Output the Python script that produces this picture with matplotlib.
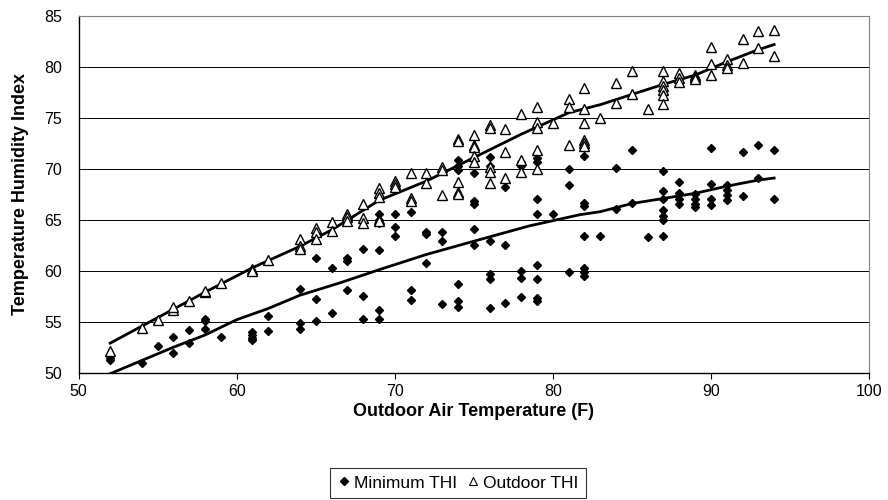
import matplotlib
matplotlib.use("Agg")
from matplotlib import pyplot as plt
from matplotlib.lines import Line2D

plt.rcParams['font.family'] = ['Liberation Sans', 'DejaVu Sans']

# Minimum THI readings, grouped by outdoor temperature (F)
min_temp = [52, 52, 54, 55, 56, 56, 57, 57, 58, 58, 58, 59,
            61, 61, 61, 61, 62, 62, 64, 64, 64, 65, 65, 65, 66, 66,
            67, 67, 67, 68, 68, 68, 69, 69, 69, 69, 69, 69,
            70, 70, 70, 71, 71, 71, 72, 72, 72, 73, 73, 73,
            74, 74, 74, 74, 74, 74, 75, 75, 75, 75, 75,
            76, 76, 76, 76, 76, 76, 77, 77, 77, 78, 78, 78, 78, 78,
            79, 79, 79, 79, 79, 79, 79, 79, 80, 81, 81, 81,
            82, 82, 82, 82, 82, 82, 82, 83, 84, 84, 85, 85, 86,
            87, 87, 87, 87, 87, 87, 87, 88, 88, 88, 88, 89, 89, 89, 89,
            90, 90, 90, 90, 91, 91, 91, 91, 92, 92, 93, 93, 94, 94]
min_thi = [51.4, 51.2, 51.0, 52.6, 53.5, 51.9, 54.2, 52.9, 55.3, 55.1, 54.3, 53.5,
           54.0, 53.7, 53.4, 53.2, 55.6, 54.1, 58.2, 54.9, 54.3, 61.3, 57.2, 55.1, 60.3, 55.9,
           61.3, 61.0, 58.1, 62.1, 57.5, 55.3, 65.6, 65.0, 64.7, 62.0, 56.2, 55.3,
           65.6, 64.3, 63.4, 65.8, 58.1, 57.1, 63.8, 63.6, 60.8, 63.8, 62.9, 56.7,
           70.9, 70.3, 69.9, 58.7, 57.0, 56.4, 69.6, 66.8, 66.6, 64.1, 62.5,
           71.2, 70.3, 62.9, 59.7, 59.2, 56.3, 68.2, 62.5, 56.8, 70.7, 70.3, 60.0, 59.3, 57.4,
           71.1, 70.7, 67.0, 65.6, 60.6, 59.2, 57.3, 57.0, 65.6, 70.0, 68.4, 59.9,
           71.3, 66.7, 66.4, 63.4, 60.3, 59.9, 59.5, 63.4, 70.1, 66.1, 71.9, 66.7, 63.3,
           69.8, 67.8, 67.0, 66.0, 65.4, 65.0, 63.4, 68.7, 67.6, 67.0, 66.6, 67.5, 67.0, 66.6, 66.3,
           72.0, 68.5, 67.0, 66.5, 68.4, 67.9, 67.4, 66.9, 71.7, 67.3, 72.3, 69.1, 71.9, 67.0]

# Outdoor THI readings
out_temp = [52, 54, 55, 56, 56, 57, 58, 58, 59, 61, 61, 62,
            64, 64, 64, 65, 65, 65, 66, 66, 67, 67, 67, 68, 68, 68,
            69, 69, 69, 69, 69, 70, 70, 70, 71, 71, 71, 72, 72, 73, 73, 73,
            74, 74, 74, 74, 74, 75, 75, 75, 75, 75, 76, 76, 76, 76, 76,
            77, 77, 77, 78, 78, 78, 79, 79, 79, 79, 79, 80, 81, 81, 81,
            82, 82, 82, 82, 82, 82, 83, 84, 84, 85, 85, 86,
            87, 87, 87, 87, 87, 87, 88, 88, 88, 89, 89, 89,
            90, 90, 90, 91, 91, 91, 92, 92, 93, 93, 94, 94]
out_thi = [52.1, 54.4, 55.2, 56.2, 56.4, 57.0, 57.9, 58.0, 58.8, 60.2, 60.0, 61.1,
           63.1, 62.4, 62.1, 64.2, 63.8, 63.1, 64.8, 63.9, 65.6, 65.3, 64.9, 66.6, 65.2, 64.7,
           68.1, 67.6, 67.2, 65.1, 64.9, 68.8, 68.5, 68.2, 69.6, 67.1, 66.8, 69.6, 68.6, 70.2, 69.9, 67.4,
           72.9, 72.7, 68.7, 67.7, 67.5, 73.3, 72.3, 72.1, 71.3, 70.7, 74.3, 74.0, 70.2, 69.7, 68.6,
           73.9, 71.7, 69.1, 75.4, 70.9, 69.7, 76.1, 74.6, 74.0, 71.9, 70.0, 74.5, 76.9, 76.1, 72.3,
           77.9, 75.9, 74.5, 72.8, 72.5, 72.2, 75.0, 78.4, 76.5, 79.6, 77.3, 75.9,
           79.6, 78.6, 78.1, 77.7, 77.2, 76.4, 79.4, 78.9, 78.5, 79.2, 79.0, 78.8,
           82.0, 80.3, 79.2, 80.8, 80.2, 79.9, 82.7, 80.4, 83.5, 81.9, 83.6, 81.1]

# trend lines
min_line_x = [52, 54, 56, 58, 60, 62, 64, 66.5, 69, 72, 75, 78.5, 81.7, 83, 85, 87, 89, 91, 93, 94]
min_line_y = [49.9, 51.2, 52.5, 53.7, 55.2, 56.3, 57.6, 58.8, 60.1, 61.6, 62.9, 64.4, 65.5, 65.8,
              66.6, 67.1, 67.6, 68.3, 68.9, 69.1]
out_line_x = [52, 55, 58, 61, 64, 66, 69, 72, 75, 78, 81, 83, 85, 87, 89, 91, 93, 94]
out_line_y = [52.9, 55.4, 57.9, 60.3, 62.4, 64.0, 66.9, 68.8, 71.1, 73.4, 75.5, 76.3, 77.3, 78.3,
              79.2, 80.5, 81.7, 82.2]

fig = plt.figure(figsize=(8.88, 5.0), dpi=100)
ax = fig.add_axes([0.0885, 0.2546, 0.8901, 0.7134])

for y in range(55, 86, 5):
    ax.axhline(y, color='black', lw=0.7, zorder=1)

ax.plot(min_line_x, min_line_y, color='black', lw=2, zorder=2)
ax.plot(out_line_x, out_line_y, color='black', lw=2, zorder=2)
ax.plot(min_temp, min_thi, 'D', color='black', ms=4.3, ls='none', zorder=3)
ax.plot(out_temp, out_thi, '^', mfc='white', mec='black', mew=1, ms=6.5, ls='none', zorder=4)

ax.set_xlim(50, 100)
ax.set_ylim(50, 85)
ax.set_xticks(range(50, 101, 10))
ax.set_yticks(range(50, 86, 5))
ax.tick_params(axis='both', labelsize=11.5, direction='out', length=4, width=0.8, pad=4)
ax.tick_params(axis='y', length=0, pad=12)
for s in ['top', 'right']:
    ax.spines[s].set_color('#808080')
    ax.spines[s].set_linewidth(0.8)
for s in ['left', 'bottom']:
    ax.spines[s].set_color('black')
    ax.spines[s].set_linewidth(1.0)

ax.set_xlabel('Outdoor Air Temperature (F)', fontsize=13, fontweight='bold', labelpad=3)
ax.set_ylabel('Temperature Humidity Index', fontsize=13, fontweight='bold', labelpad=11)

handles = [Line2D([], [], marker='D', color='black', ls='none', ms=4.5),
           Line2D([], [], marker='^', mfc='white', mec='black', mew=0.8, ls='none', ms=5.5)]
leg = fig.legend(handles, ['Minimum THI', 'Outdoor THI'], ncol=2, loc='center',
                 bbox_to_anchor=(458 / 888, 1 - 483 / 500), fontsize=12.5, frameon=True,
                 fancybox=False, edgecolor='black', handlelength=0.7, handletextpad=0.2,
                 columnspacing=0.6, borderpad=0.45, borderaxespad=0)
leg.get_frame().set_linewidth(0.8)

fig.savefig('out.png', dpi=100)
